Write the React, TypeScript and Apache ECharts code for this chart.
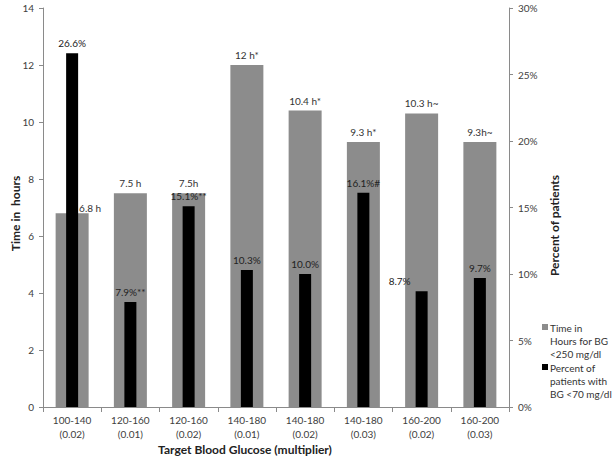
import React, { useEffect, useRef } from "react";
import * as echarts from "echarts";

const categories = [
  "100-140\n(0.02)",
  "120-160\n(0.01)",
  "120-160\n(0.02)",
  "140-180\n(0.01)",
  "140-180\n(0.02)",
  "140-180\n(0.03)",
  "160-200\n(0.02)",
  "160-200\n(0.03)",
];
const hoursValues = [6.8, 7.5, 7.5, 12, 10.4, 9.3, 10.3, 9.3];
const hoursLabels = ["6.8 h", "7.5 h", "7.5h", "12 h*", "10.4 h*", "9.3 h*", "10.3 h~", "9.3h~"];
const percentValues = [26.6, 7.9, 15.1, 10.3, 10.0, 16.1, 8.7, 9.7];
const percentLabels = ["26.6%", "7.9%**", "15.1%**", "10.3%", "10.0%", "16.1%#", "8.7%", "9.7%"];
const leftTicks = [0, 14, 2];
const rightTicks = [0, 30, 5];

const FONT = "Lato, 'Noto Sans', sans-serif";
const TXT = "#404040";
const AXIS = "#8a8a8a";

export default function App() {
  const ref = useRef<HTMLDivElement>(null);
  useEffect(() => {
    if (!ref.current) return;
    const chart = echarts.init(ref.current, null, { renderer: "svg" });
    chart.setOption({
      animation: false,
      textStyle: { fontFamily: FONT },
      grid: { left: 43, right: 103, top: 8, bottom: 57, containLabel: false, outerBoundsMode: "none" },
      xAxis: [
        {
          type: "category",
          data: categories,
          axisLine: { lineStyle: { color: AXIS } },
          axisTick: { show: true, length: 5, lineStyle: { color: AXIS } },
          axisLabel: { color: TXT, fontSize: 10, lineHeight: 14, margin: 6, fontFamily: FONT },
          name: "Target Blood Glucose (multiplier)",
          nameLocation: "middle",
          nameGap: 36,
          nameMoveOverlap: false,
          nameTextStyle: { fontSize: 12, fontWeight: "bold", color: "#222", padding: [0, 62, 0, 0], fontFamily: FONT },
        },
        {
          type: "category",
          data: categories,
          show: false,
        },
      ],
      yAxis: [
        {
          type: "value",
          min: leftTicks[0],
          max: leftTicks[1],
          interval: leftTicks[2],
          splitLine: { show: false },
          axisLine: { show: true, lineStyle: { color: AXIS } },
          axisTick: { show: true, length: 4, lineStyle: { color: AXIS } },
          axisLabel: { color: TXT, fontSize: 10, margin: 9, fontFamily: FONT },
          name: "Time in  hours",
          nameLocation: "middle",
          nameGap: 22,
          nameMoveOverlap: false,
          nameTextStyle: { fontSize: 12, fontWeight: "bold", color: "#222", padding: [0, 12, 0, 0], fontFamily: FONT },
        },
        {
          type: "value",
          position: "right",
          min: rightTicks[0],
          max: rightTicks[1],
          interval: rightTicks[2],
          splitLine: { show: false },
          axisLine: { show: true, lineStyle: { color: AXIS } },
          axisTick: { show: true, length: 4, lineStyle: { color: AXIS } },
          axisLabel: { color: TXT, fontSize: 10, margin: 9, formatter: "{value}%", fontFamily: FONT },
          name: "Percent of patients",
          nameLocation: "middle",
          nameGap: 39,
          nameMoveOverlap: false,
          nameTextStyle: { fontSize: 12, fontWeight: "bold", color: "#222", padding: [0, 36, 0, 0], fontFamily: FONT },
        },
      ],
      series: [
        {
          name: "Time in Hours for BG <250 mg/dl",
          type: "bar",
          xAxisIndex: 0,
          yAxisIndex: 0,
          barWidth: 33,
          itemStyle: { color: "#8c8c8c" },
          data: hoursValues.map((v, i) => ({
            value: v,
            label: i === 0 ? { offset: [18, 5] } : {},
          })),
          label: {
            show: true,
            position: "top",
            distance: 5,
            fontSize: 10,
            color: "#333",
            textBorderWidth: 0,
            fontFamily: FONT,
            formatter: (p: any) => hoursLabels[p.dataIndex],
          },
        },
        {
          name: "Percent of patients with BG <70 mg/dl",
          type: "bar",
          xAxisIndex: 1,
          yAxisIndex: 1,
          barWidth: 12,
          itemStyle: { color: "#000000" },
          data: percentValues.map((v, i) => ({
            value: v,
            label: i === 6 ? { offset: [-22, 0] } : {},
          })),
          label: {
            show: true,
            position: "top",
            distance: 5,
            fontSize: 10,
            color: "#222",
            textBorderWidth: 0,
            fontFamily: FONT,
            formatter: (p: any) => percentLabels[p.dataIndex],
          },
        },
      ],
      graphic: [
        { type: "rect", left: 542, top: 324, shape: { width: 6, height: 6 }, style: { fill: "#8c8c8c" } },
        {
          type: "text",
          left: 550,
          top: 321,
          style: { text: "Time in\nHours for BG\n<250 mg/dl", fontSize: 10, lineHeight: 13, fill: "#333", fontFamily: FONT },
        },
        { type: "rect", left: 542, top: 364, shape: { width: 6, height: 6 }, style: { fill: "#000" } },
        {
          type: "text",
          left: 550,
          top: 361,
          style: { text: "Percent of\npatients with\nBG <70 mg/dl", fontSize: 10, lineHeight: 13, fill: "#333", fontFamily: FONT },
        },
      ],
    });
    return () => chart.dispose();
  }, []);
  return <div ref={ref} style={{ width: 612, height: 464, position: "absolute", left: 0, top: 0 }} />;
}
